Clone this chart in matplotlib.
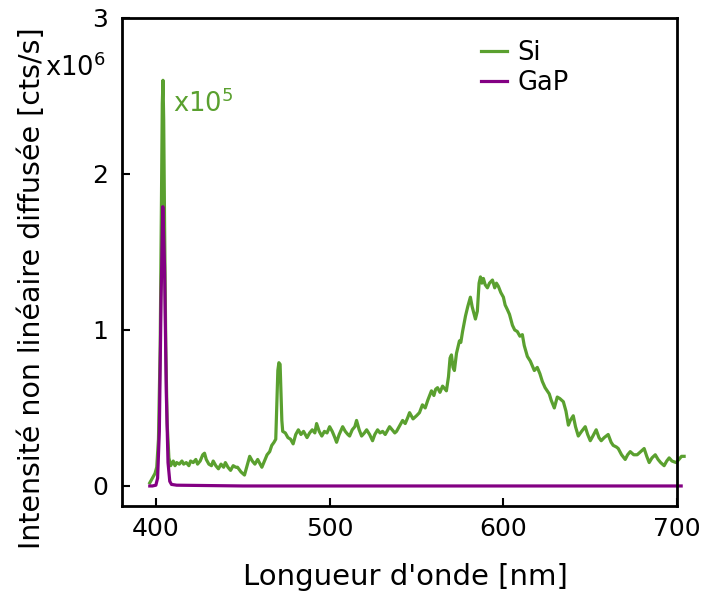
import numpy as np
import matplotlib
matplotlib.use('Agg')
import matplotlib.pyplot as plt

# Si spectrum (x1e5 scaled, units of 1e6 cts/s)
si_wl = [396.5, 398, 399.5, 400.5, 401.5, 402.5, 403.2, 403.7, 404.1, 404.5,
         405.0, 405.7, 406.5, 407.5, 408.5, 410, 411, 412, 413.5, 415,
         416, 417.5, 419, 420, 421.5, 423, 424, 425.5, 427, 428,
         429, 430.5, 432, 433, 434.5, 436, 437.5, 439, 440, 441.5,
         443, 444.5, 446, 447, 449, 451, 452.5, 454, 455.5, 457,
         458.6, 460, 461, 462.5, 464, 465.5, 466.7, 468, 469, 469.7,
         470.2, 470.8, 471.5, 472, 472.5, 473, 474.5, 476, 477.5, 479,
         480.5, 482, 483.5, 485, 487, 488.5, 490, 491.5, 492.5, 494,
         495.5, 497, 498.5, 500, 501.5, 503, 504, 505.5, 507.5, 509,
         510.5, 511.5, 513, 514.5, 515.5, 517, 518.4, 520, 521.3, 523,
         524.7, 526, 527.6, 529, 530.5, 532, 534.5, 536, 537.5, 538.5,
         540, 542, 543.5, 545, 546, 548, 550, 551.7, 553.4, 555,
         556.5, 558.6, 560, 561, 562.1, 563.5, 565, 566.5, 567.2, 568.4,
         569.3, 570.1, 571, 571.8, 573, 574.7, 575.5, 576.5, 578.2, 579.5,
         581, 582, 583.9, 585, 586, 586.8, 587.6, 588.5, 589.5, 590.8,
         592, 593.7, 595, 596, 597.1, 598.5, 600, 601, 602.3, 603.5,
         605.2, 606.5, 608, 609.5, 610.9, 612, 613.8, 615.5, 617.8, 619.5,
         621, 622.4, 624, 626.4, 627.5, 629.3, 631, 632.5, 634.5, 636,
         637.4, 638.5, 640.2, 641.5, 643.1, 645, 647.1, 648.5, 650, 651.5,
         653.4, 655, 656.3, 658, 660.3, 662, 663.2, 665, 666.1, 668,
         670.1, 671.5, 673, 675, 677, 679, 681, 682.5, 683.9, 685.5,
         687.4, 689, 690.5, 692.5, 694, 695.4, 697, 699.4, 701, 702.5,
         704]
si_int = [0.02, 0.05, 0.08, 0.12, 0.30, 0.90, 1.80, 2.45, 2.60, 2.35,
          1.70, 0.90, 0.40, 0.18, 0.13, 0.16, 0.13, 0.15, 0.14, 0.16,
          0.14, 0.15, 0.13, 0.16, 0.15, 0.17, 0.14, 0.16, 0.20, 0.21,
          0.17, 0.14, 0.13, 0.16, 0.13, 0.11, 0.14, 0.12, 0.15, 0.12,
          0.10, 0.13, 0.12, 0.12, 0.09, 0.07, 0.13, 0.19, 0.16, 0.14,
          0.17, 0.14, 0.12, 0.16, 0.20, 0.22, 0.26, 0.28, 0.30, 0.55,
          0.74, 0.79, 0.78, 0.60, 0.42, 0.35, 0.34, 0.31, 0.30, 0.27,
          0.33, 0.36, 0.33, 0.35, 0.31, 0.34, 0.36, 0.34, 0.40, 0.35,
          0.32, 0.35, 0.34, 0.38, 0.35, 0.31, 0.28, 0.33, 0.38, 0.35,
          0.33, 0.32, 0.36, 0.38, 0.42, 0.36, 0.32, 0.34, 0.36, 0.33,
          0.29, 0.33, 0.36, 0.34, 0.35, 0.33, 0.38, 0.36, 0.34, 0.35,
          0.38, 0.42, 0.40, 0.44, 0.47, 0.43, 0.45, 0.47, 0.52, 0.50,
          0.55, 0.61, 0.58, 0.62, 0.63, 0.60, 0.64, 0.62, 0.61, 0.70,
          0.82, 0.84, 0.76, 0.74, 0.85, 0.93, 0.92, 0.99, 1.09, 1.15,
          1.21, 1.15, 1.07, 1.12, 1.30, 1.34, 1.30, 1.33, 1.29, 1.27,
          1.30, 1.32, 1.27, 1.30, 1.28, 1.24, 1.21, 1.16, 1.13, 1.10,
          1.03, 1.00, 0.99, 0.96, 0.97, 0.90, 0.83, 0.80, 0.74, 0.76,
          0.72, 0.67, 0.63, 0.59, 0.55, 0.50, 0.57, 0.56, 0.54, 0.48,
          0.39, 0.42, 0.45, 0.38, 0.32, 0.35, 0.38, 0.33, 0.29, 0.32,
          0.36, 0.31, 0.29, 0.31, 0.33, 0.28, 0.26, 0.25, 0.24, 0.20,
          0.17, 0.20, 0.22, 0.20, 0.20, 0.22, 0.24, 0.19, 0.15, 0.18,
          0.20, 0.17, 0.15, 0.13, 0.16, 0.18, 0.16, 0.15, 0.17, 0.19,
          0.19]

# GaP spectrum
gap_wl = [396.5, 398, 400, 401, 402, 403, 404, 405, 406, 407,
          408, 409, 412, 450, 500, 550, 600, 650, 702.3]
gap_int = [0.0, 0.0, 0.005, 0.05, 0.35, 1.2, 1.79, 1.4, 0.6, 0.15,
           0.03, 0.01, 0.005, 0.0, 0.0, 0.0, 0.0, 0.0, 0.0]

green = '#5aa02f'
purple = '#830083'

fig = plt.figure(figsize=(7.01, 5.97), dpi=100)
ax = fig.add_axes([0.174, 0.152, 0.792, 0.818])

ax.plot(si_wl, si_int, color=green, lw=2.3, label='Si', clip_on=False)
ax.plot(gap_wl, gap_int, color=purple, lw=2.3, label='GaP', clip_on=False)

ax.set_xlim(380.5, 700)
ax.set_ylim(-0.13, 3)
ax.set_xticks([400, 500, 600, 700])
ax.set_yticks([0, 1, 2, 3])
ax.tick_params(direction='in', length=6, width=1.5, labelsize=18)
ax.tick_params(axis='x', pad=8)
ax.tick_params(axis='y', pad=10)
for s in ax.spines.values():
    s.set_linewidth(2)

ax.set_xlabel("Longueur d'onde [nm]", fontsize=21)
ax.set_ylabel('Intensité non linéaire diffusée [cts/s]', fontsize=20.5)
ax.xaxis.set_label_coords(0.51, -0.116)
ax.yaxis.set_label_coords(-0.137, 0.447)

ax.text(410, 2.4, 'x10$^5$', color=green, fontsize=18.5, va='baseline')
fig.text(0.064, 0.873, 'x10$^6$', fontsize=18.5, va='baseline')

ax.legend(loc='upper left', bbox_to_anchor=(0.647, 0.955), frameon=False,
          fontsize=18.5, handlelength=1.0, handletextpad=0.4, borderpad=0,
          borderaxespad=0, labelspacing=0.15)

plt.savefig('out.png', dpi=100)
